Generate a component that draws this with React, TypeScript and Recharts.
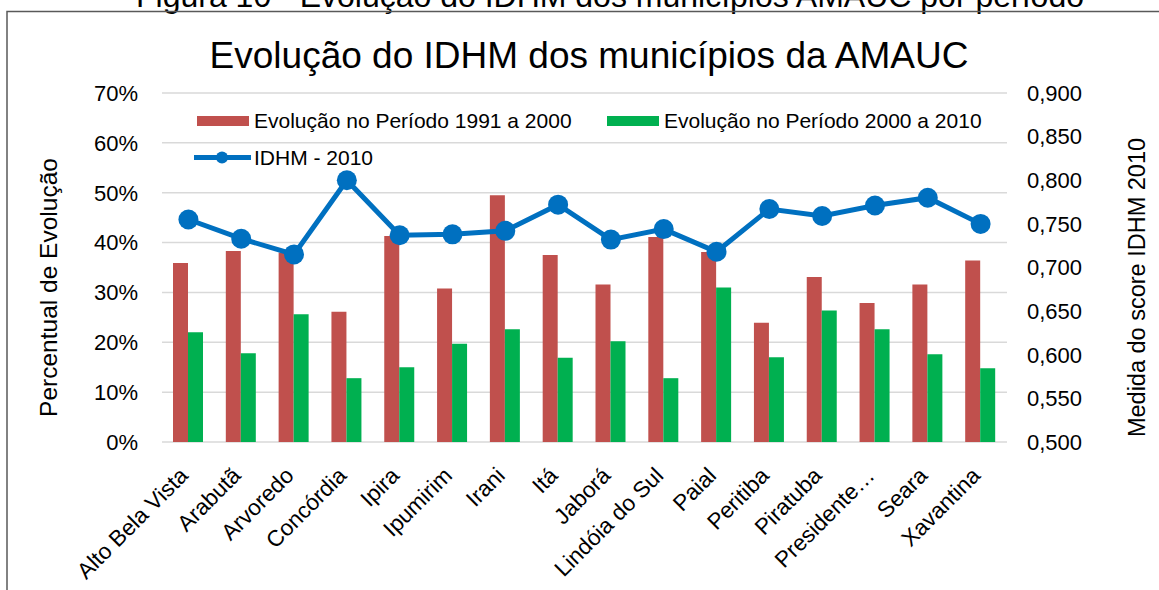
import React from "react"
import { Bar, ComposedChart, Line, XAxis, YAxis, CartesianGrid, Label } from "recharts"

const municipios = [
  "Alto Bela Vista",
  "Arabutã",
  "Arvoredo",
  "Concórdia",
  "Ipira",
  "Ipumirim",
  "Irani",
  "Itá",
  "Jaborá",
  "Lindóia do Sul",
  "Paial",
  "Peritiba",
  "Piratuba",
  "Presidente Castello Branco",
  "Seara",
  "Xavantina",
]

// percentual de evolução (%)
const evolucao1991a2000 = [35.9, 38.3, 38.0, 26.1, 41.3, 30.8, 49.5, 37.5, 31.6, 41.1, 38.1, 23.9, 33.1, 27.9, 31.6, 36.4]
const evolucao2000a2010 = [22.0, 17.8, 25.6, 12.8, 15.0, 19.7, 22.6, 16.9, 20.2, 12.8, 31.0, 17.0, 26.4, 22.6, 17.6, 14.8]

// IDHM 2010
const idhm2010 = [0.755, 0.733, 0.715, 0.8, 0.737, 0.738, 0.742, 0.772, 0.732, 0.744, 0.718, 0.767, 0.759, 0.771, 0.78, 0.75]

const percentTicks = [0, 10, 20, 30, 40, 50, 60, 70]
const idhmTicks = [0.5, 0.55, 0.6, 0.65, 0.7, 0.75, 0.8, 0.85, 0.9]

const data = municipios.map((name, i) => ({
  name,
  p1: evolucao1991a2000[i],
  p2: evolucao2000a2010[i],
  idhm: idhm2010[i],
}))

const FONT = "'Liberation Sans', Arial, sans-serif"
const RED = "#C0504D"
const GREEN = "#00B050"
const BLUE = "#0070C0"

function XTick(props: any) {
  const { x, y, payload } = props
  let label: string = payload.value
  if (label.length > 20) label = label.split(" ")[0] + "…"
  const ax = x + 1
  const ay = y + 33
  return (
    <text x={ax} y={ay} transform={`rotate(-45 ${ax} ${ay})`} textAnchor="end" fontSize={22.5} fontFamily={FONT} fill="#000">
      {label}
    </text>
  )
}

function SideTitle(props: any) {
  const { viewBox, value, cx, size } = props
  const cy = viewBox.y + viewBox.height / 2 + 20
  return (
    <text x={cx} y={cy} transform={`rotate(-90 ${cx} ${cy})`} textAnchor="middle" dominantBaseline="central" fontSize={size} fontFamily={FONT} fill="#000">
      {value}
    </text>
  )
}

export default function App() {
  return (
    <div style={{ position: "absolute", left: 0, top: 0, width: 1159, height: 590, overflow: "hidden", background: "#fff", fontFamily: FONT }}>
      <ComposedChart width={1159} height={590} data={data} margin={{ top: 93, right: 0, bottom: 0, left: 0 }} barGap={0} barSize={15}>
        <CartesianGrid yAxisId="left" vertical={false} stroke="#D9D9D9" strokeWidth={1.5} />
        <XAxis dataKey="name" interval={0} height={148} tickSize={0} axisLine={false} tickLine={false} tick={<XTick />} />
        <YAxis
          yAxisId="left"
          width={162}
          domain={[0, 70]}
          ticks={percentTicks}
          tickFormatter={(v) => `${v}%`}
          axisLine={false}
          tickLine={false}
          tickSize={0}
          tickMargin={24}
          tick={{ fontSize: 22, fill: "#000", fontFamily: FONT }}
        >
          <Label content={(p: any) => <SideTitle {...p} cx={48} size={24.5} value="Percentual de Evolução" />} />
        </YAxis>
        <YAxis
          yAxisId="right"
          orientation="right"
          width={152}
          domain={[0.5, 0.9]}
          ticks={idhmTicks}
          tickFormatter={(v) => v.toFixed(3).replace(".", ",")}
          axisLine={false}
          tickLine={false}
          tickSize={0}
          tickMargin={20}
          tick={{ fontSize: 22, fill: "#000", fontFamily: FONT, textAnchor: "start" }}
        >
          <Label content={(p: any) => <SideTitle {...p} cx={1137} size={23.5} value="Medida do score IDHM 2010" />} />
        </YAxis>
        <Bar yAxisId="left" dataKey="p1" fill={RED} isAnimationActive={false} name="Evolução no Período 1991 a 2000" />
        <Bar yAxisId="left" dataKey="p2" fill={GREEN} isAnimationActive={false} name="Evolução no Período 2000 a 2010" />
        <Line
          yAxisId="right"
          dataKey="idhm"
          stroke={BLUE}
          strokeWidth={5}
          dot={{ r: 10, fill: BLUE, stroke: BLUE, strokeWidth: 0 }}
          isAnimationActive={false}
          name="IDHM - 2010"
        />
      </ComposedChart>
      <svg width={1159} height={590} style={{ position: "absolute", left: 0, top: 0, pointerEvents: "none" }}>
        <text x={610} y={7} textAnchor="middle" fontSize={32} fontFamily={FONT} fill="#000">
          Figura 10 - Evolução do IDHM dos municípios AMAUC por período
        </text>
        <rect x={7} y={11.5} width={1170} height={600} fill="none" stroke="#595959" strokeWidth={1.5} />
        <text x={589} y={68} textAnchor="middle" fontSize={37} fontFamily={FONT} fill="#000">
          Evolução do IDHM dos municípios da AMAUC
        </text>
        <rect x={197} y={116} width={52} height={10} fill={RED} />
        <text x={254} y={128} fontSize={21} fontFamily={FONT} fill="#000">Evolução no Período 1991 a 2000</text>
        <rect x={607} y={116} width={52} height={10} fill={GREEN} />
        <text x={664} y={128} fontSize={21} fontFamily={FONT} fill="#000">Evolução no Período 2000 a 2010</text>
        <line x1={194} y1={157.5} x2={251} y2={157.5} stroke={BLUE} strokeWidth={5} />
        <circle cx={222} cy={157.5} r={6} fill={BLUE} />
        <text x={254} y={165} fontSize={21} fontFamily={FONT} fill="#000">IDHM - 2010</text>
      </svg>
    </div>
  )
}
